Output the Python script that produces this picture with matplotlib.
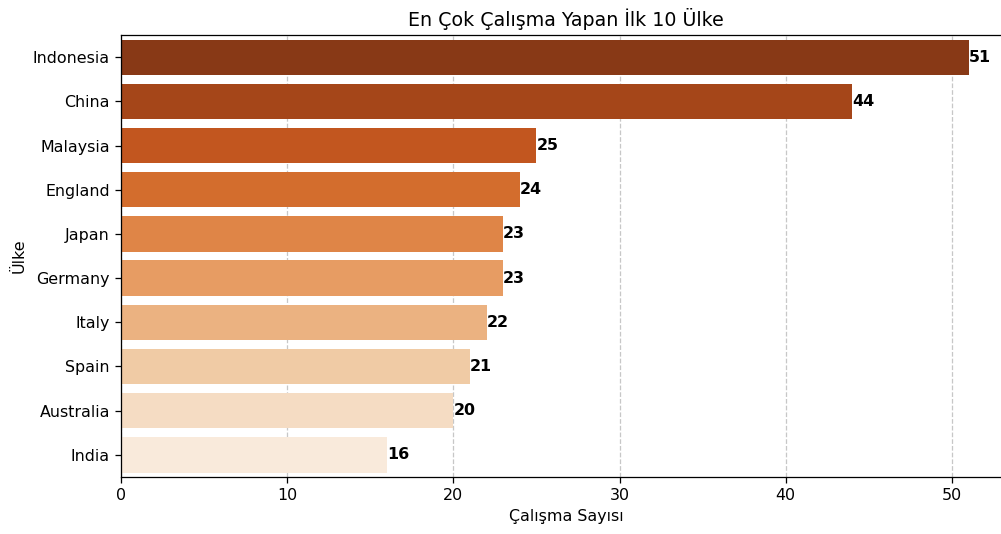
import matplotlib
matplotlib.use("Agg")
import matplotlib.pyplot as plt
import seaborn as sns

# Data
countries = ["Indonesia", "China", "Malaysia", "England", "Japan",
             "Germany", "Italy", "Spain", "Australia", "India"]
counts = [51, 44, 25, 24, 23, 23, 22, 21, 20, 16]

s = 1.14  # overall scale of text and lines in the reference
fig = plt.figure(figsize=(10.01, 5.34), dpi=100)
ax = fig.add_axes([0.1209, 0.1068, 0.889, 0.8275])

sns.barplot(x=counts, y=countries, hue=countries, palette="Oranges_r",
            legend=False, ax=ax)

for i, v in enumerate(counts):
    ax.text(v, i, str(v), va="center", ha="left", fontsize=10 * s, fontweight="bold")

ax.set_title("En Çok Çalışma Yapan İlk 10 Ülke", fontsize=12 * s, pad=6 * s)
ax.set_xlabel("Çalışma Sayısı", fontsize=10 * s, labelpad=4 * s)
ax.set_ylabel("Ülke", fontsize=10 * s, labelpad=4 * s)
ax.tick_params(labelsize=10 * s, length=3.5 * s, width=0.8 * s, pad=3.5 * s)
for sp in ax.spines.values():
    sp.set_linewidth(0.8 * s)
ax.set_xlim(0, 53.55)
ax.grid(axis="x", linestyle="--", alpha=0.7, linewidth=0.8 * s)
ax.set_axisbelow(True)

fig.savefig("out.png", dpi=100)
